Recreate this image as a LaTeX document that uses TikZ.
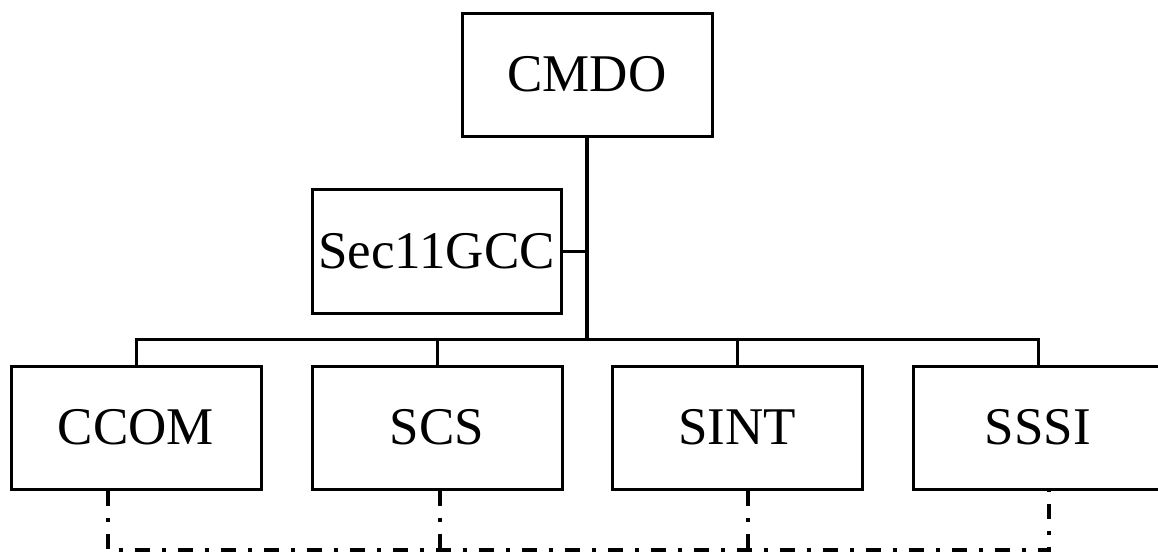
\documentclass[tikz,border=0pt]{standalone}
\usepackage{fontspec}
\setmainfont{Liberation Serif}
\begin{document}
\begin{tikzpicture}[x=1pt,y=-1pt,
  box/.style={draw,line width=3pt,fill=white,inner sep=0pt,minimum width=250pt,minimum height=123pt,font=\fontsize{53}{60}\selectfont},
  conn/.style={line width=3pt},
  dd/.style={line width=3.2pt,dash pattern=on 15pt off 12pt on 4pt off 12pt}]
\useasboundingbox (0,0) rectangle (1158,552);
\node[box] (cmdo) at (587,74.5) {CMDO};
\node[box,minimum width=249pt,minimum height=124pt] (sec) at (436.5,251) {Sec11GCC};
\node[box] (ccom) at (136,427.5) {CCOM};
\node[box] (scs) at (437,427.5) {SCS};
\node[box] (sint) at (737,427.5) {SINT};
\node[box] (sssi) at (1038,427.5) {SSSI};
\coordinate (hub) at (587,339);
\draw[conn,line width=3.4pt] (cmdo.south) -- (hub);
\draw[conn] (sec.east) -- (sec.east -| cmdo.south);
\draw[conn] (ccom.north) |- (hub) -| (sssi.north);
\draw[conn] (scs.north) -- (scs.north |- hub);
\draw[conn] (sint.north) -- (sint.north |- hub);
\coordinate (c1) at ([xshift=-28pt]ccom.south);
\coordinate (c2) at ([xshift=3pt]scs.south);
\coordinate (c3) at ([xshift=11pt]sint.south);
\coordinate (c4) at ([xshift=11pt]sssi.south);
\coordinate (b1) at (c1 |- 0,550);
\coordinate (b2) at (c2 |- 0,550);
\coordinate (b3) at (c3 |- 0,550);
\coordinate (b4) at (c4 |- 0,550);
\draw[dd] (c1) -- (b1) -- (b4) -- (c4);
\draw[dd] (c2) -- (b2);
\draw[dd] (c3) -- (b3);
\end{tikzpicture}
\end{document}
